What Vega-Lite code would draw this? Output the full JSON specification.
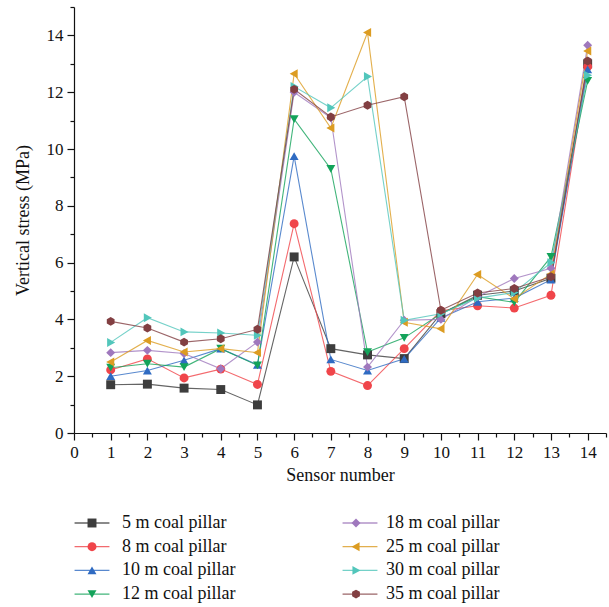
{
  "$schema": "https://vega.github.io/schema/vega-lite/v6.json",
  "width": 532,
  "height": 426,
  "autosize": "none",
  "padding": {"left": 74, "top": 7, "right": 3, "bottom": 174},
  "background": "white",
  "config": {
    "view": {"stroke": null},
    "font": "Liberation Serif",
    "axis": {"labelFont": "Liberation Serif", "titleFont": "Liberation Serif", "labelColor": "#111", "titleColor": "#111", "domainColor": "#111", "tickColor": "#111", "labelFontSize": 17, "titleFontSize": 18, "titleFontWeight": "normal", "grid": false, "domainWidth": 1.2, "tickWidth": 1.2},
    "legend": {
      "title": null,
      "orient": "none",
      "legendX": 0,
      "legendY": 507,
      "direction": "vertical",
      "columns": 2,
      "columnPadding": 102,
      "rowPadding": 5.7,
      "labelFont": "Liberation Serif",
      "labelFontSize": 18,
      "labelColor": "#111",
      "labelLimit": 300,
      "symbolSize": 80,
      "symbolOffset": 9,
      "labelOffset": 21
    }
  },
  "datasets": {
    "stress": [
      {"sensor": 1, "pillar": "5 m coal pillar", "stress": 1.70},
      {"sensor": 2, "pillar": "5 m coal pillar", "stress": 1.72},
      {"sensor": 3, "pillar": "5 m coal pillar", "stress": 1.58},
      {"sensor": 4, "pillar": "5 m coal pillar", "stress": 1.53},
      {"sensor": 5, "pillar": "5 m coal pillar", "stress": 0.99},
      {"sensor": 6, "pillar": "5 m coal pillar", "stress": 6.20},
      {"sensor": 7, "pillar": "5 m coal pillar", "stress": 2.97},
      {"sensor": 8, "pillar": "5 m coal pillar", "stress": 2.75},
      {"sensor": 9, "pillar": "5 m coal pillar", "stress": 2.62},
      {"sensor": 10, "pillar": "5 m coal pillar", "stress": 4.20},
      {"sensor": 11, "pillar": "5 m coal pillar", "stress": 4.85},
      {"sensor": 12, "pillar": "5 m coal pillar", "stress": 5.00},
      {"sensor": 13, "pillar": "5 m coal pillar", "stress": 5.45},
      {"sensor": 14, "pillar": "5 m coal pillar", "stress": 13.0},

      {"sensor": 1, "pillar": "8 m coal pillar", "stress": 2.22},
      {"sensor": 2, "pillar": "8 m coal pillar", "stress": 2.61},
      {"sensor": 3, "pillar": "8 m coal pillar", "stress": 1.94},
      {"sensor": 4, "pillar": "8 m coal pillar", "stress": 2.25},
      {"sensor": 5, "pillar": "8 m coal pillar", "stress": 1.71},
      {"sensor": 6, "pillar": "8 m coal pillar", "stress": 7.37},
      {"sensor": 7, "pillar": "8 m coal pillar", "stress": 2.17},
      {"sensor": 8, "pillar": "8 m coal pillar", "stress": 1.67},
      {"sensor": 9, "pillar": "8 m coal pillar", "stress": 2.97},
      {"sensor": 10, "pillar": "8 m coal pillar", "stress": 4.30},
      {"sensor": 11, "pillar": "8 m coal pillar", "stress": 4.48},
      {"sensor": 12, "pillar": "8 m coal pillar", "stress": 4.40},
      {"sensor": 13, "pillar": "8 m coal pillar", "stress": 4.85},
      {"sensor": 14, "pillar": "8 m coal pillar", "stress": 12.9},

      {"sensor": 1, "pillar": "10 m coal pillar", "stress": 2.00},
      {"sensor": 2, "pillar": "10 m coal pillar", "stress": 2.20},
      {"sensor": 3, "pillar": "10 m coal pillar", "stress": 2.56},
      {"sensor": 4, "pillar": "10 m coal pillar", "stress": 2.97},
      {"sensor": 5, "pillar": "10 m coal pillar", "stress": 2.40},
      {"sensor": 6, "pillar": "10 m coal pillar", "stress": 9.75},
      {"sensor": 7, "pillar": "10 m coal pillar", "stress": 2.59},
      {"sensor": 8, "pillar": "10 m coal pillar", "stress": 2.20},
      {"sensor": 9, "pillar": "10 m coal pillar", "stress": 2.61},
      {"sensor": 10, "pillar": "10 m coal pillar", "stress": 4.05},
      {"sensor": 11, "pillar": "10 m coal pillar", "stress": 4.62},
      {"sensor": 12, "pillar": "10 m coal pillar", "stress": 4.75},
      {"sensor": 13, "pillar": "10 m coal pillar", "stress": 5.40},
      {"sensor": 14, "pillar": "10 m coal pillar", "stress": 12.8},

      {"sensor": 1, "pillar": "12 m coal pillar", "stress": 2.30},
      {"sensor": 2, "pillar": "12 m coal pillar", "stress": 2.44},
      {"sensor": 3, "pillar": "12 m coal pillar", "stress": 2.32},
      {"sensor": 4, "pillar": "12 m coal pillar", "stress": 2.97},
      {"sensor": 5, "pillar": "12 m coal pillar", "stress": 2.38},
      {"sensor": 6, "pillar": "12 m coal pillar", "stress": 11.05},
      {"sensor": 7, "pillar": "12 m coal pillar", "stress": 9.30},
      {"sensor": 8, "pillar": "12 m coal pillar", "stress": 2.85},
      {"sensor": 9, "pillar": "12 m coal pillar", "stress": 3.35},
      {"sensor": 10, "pillar": "12 m coal pillar", "stress": 4.20},
      {"sensor": 11, "pillar": "12 m coal pillar", "stress": 4.80},
      {"sensor": 12, "pillar": "12 m coal pillar", "stress": 4.60},
      {"sensor": 13, "pillar": "12 m coal pillar", "stress": 6.20},
      {"sensor": 14, "pillar": "12 m coal pillar", "stress": 12.4},

      {"sensor": 1, "pillar": "18 m coal pillar", "stress": 2.83},
      {"sensor": 2, "pillar": "18 m coal pillar", "stress": 2.91},
      {"sensor": 3, "pillar": "18 m coal pillar", "stress": 2.80},
      {"sensor": 4, "pillar": "18 m coal pillar", "stress": 2.26},
      {"sensor": 5, "pillar": "18 m coal pillar", "stress": 3.20},
      {"sensor": 6, "pillar": "18 m coal pillar", "stress": 12.0},
      {"sensor": 7, "pillar": "18 m coal pillar", "stress": 11.1},
      {"sensor": 8, "pillar": "18 m coal pillar", "stress": 2.32},
      {"sensor": 9, "pillar": "18 m coal pillar", "stress": 3.97},
      {"sensor": 10, "pillar": "18 m coal pillar", "stress": 4.00},
      {"sensor": 11, "pillar": "18 m coal pillar", "stress": 4.80},
      {"sensor": 12, "pillar": "18 m coal pillar", "stress": 5.44},
      {"sensor": 13, "pillar": "18 m coal pillar", "stress": 5.80},
      {"sensor": 14, "pillar": "18 m coal pillar", "stress": 13.65},

      {"sensor": 1, "pillar": "25 m coal pillar", "stress": 2.50},
      {"sensor": 2, "pillar": "25 m coal pillar", "stress": 3.26},
      {"sensor": 3, "pillar": "25 m coal pillar", "stress": 2.85},
      {"sensor": 4, "pillar": "25 m coal pillar", "stress": 2.97},
      {"sensor": 5, "pillar": "25 m coal pillar", "stress": 2.83},
      {"sensor": 6, "pillar": "25 m coal pillar", "stress": 12.65},
      {"sensor": 7, "pillar": "25 m coal pillar", "stress": 10.74},
      {"sensor": 8, "pillar": "25 m coal pillar", "stress": 14.1},
      {"sensor": 9, "pillar": "25 m coal pillar", "stress": 3.90},
      {"sensor": 10, "pillar": "25 m coal pillar", "stress": 3.67},
      {"sensor": 11, "pillar": "25 m coal pillar", "stress": 5.58},
      {"sensor": 12, "pillar": "25 m coal pillar", "stress": 4.73},
      {"sensor": 13, "pillar": "25 m coal pillar", "stress": 5.60},
      {"sensor": 14, "pillar": "25 m coal pillar", "stress": 13.45},

      {"sensor": 1, "pillar": "30 m coal pillar", "stress": 3.19},
      {"sensor": 2, "pillar": "30 m coal pillar", "stress": 4.06},
      {"sensor": 3, "pillar": "30 m coal pillar", "stress": 3.56},
      {"sensor": 4, "pillar": "30 m coal pillar", "stress": 3.52},
      {"sensor": 5, "pillar": "30 m coal pillar", "stress": 3.44},
      {"sensor": 6, "pillar": "30 m coal pillar", "stress": 12.2},
      {"sensor": 7, "pillar": "30 m coal pillar", "stress": 11.45},
      {"sensor": 8, "pillar": "30 m coal pillar", "stress": 12.55},
      {"sensor": 9, "pillar": "30 m coal pillar", "stress": 3.97},
      {"sensor": 10, "pillar": "30 m coal pillar", "stress": 4.20},
      {"sensor": 11, "pillar": "30 m coal pillar", "stress": 4.75},
      {"sensor": 12, "pillar": "30 m coal pillar", "stress": 4.95},
      {"sensor": 13, "pillar": "30 m coal pillar", "stress": 6.00},
      {"sensor": 14, "pillar": "30 m coal pillar", "stress": 12.6},

      {"sensor": 1, "pillar": "35 m coal pillar", "stress": 3.93},
      {"sensor": 2, "pillar": "35 m coal pillar", "stress": 3.70},
      {"sensor": 3, "pillar": "35 m coal pillar", "stress": 3.20},
      {"sensor": 4, "pillar": "35 m coal pillar", "stress": 3.32},
      {"sensor": 5, "pillar": "35 m coal pillar", "stress": 3.65},
      {"sensor": 6, "pillar": "35 m coal pillar", "stress": 12.1},
      {"sensor": 7, "pillar": "35 m coal pillar", "stress": 11.13},
      {"sensor": 8, "pillar": "35 m coal pillar", "stress": 11.54},
      {"sensor": 9, "pillar": "35 m coal pillar", "stress": 11.84},
      {"sensor": 10, "pillar": "35 m coal pillar", "stress": 4.32},
      {"sensor": 11, "pillar": "35 m coal pillar", "stress": 4.93},
      {"sensor": 12, "pillar": "35 m coal pillar", "stress": 5.09},
      {"sensor": 13, "pillar": "35 m coal pillar", "stress": 5.50},
      {"sensor": 14, "pillar": "35 m coal pillar", "stress": 13.1}
    ]
  },
  "data": {"name": "stress"},
  "transform": [{"calculate": "datum.pillar", "as": "marker"}],
  "encoding": {
    "x": {
      "field": "sensor", "type": "quantitative", "title": "Sensor number",
      "scale": {"domain": [0, 14.5], "nice": false, "zero": false},
      "axis": {
        "values": [0,0.5,1,1.5,2,2.5,3,3.5,4,4.5,5,5.5,6,6.5,7,7.5,8,8.5,9,9.5,10,10.5,11,11.5,12,12.5,13,13.5,14,14.5],
        "labelExpr": "datum.value % 1 === 0 ? '' + datum.value : ''",
        "tickSize": {"condition": {"test": "datum.value % 1 === 0", "value": 7}, "value": 4},
        "labelPadding": 4, "titlePadding": 6, "labelFlush": false, "labelOverlap": false
      }
    },
    "y": {
      "field": "stress", "type": "quantitative", "title": "Vertical stress (MPa)",
      "scale": {"domain": [0, 15], "nice": false},
      "axis": {
        "values": [0,1,2,3,4,5,6,7,8,9,10,11,12,13,14,15],
        "labelExpr": "datum.value % 2 === 0 ? '' + datum.value : ''",
        "tickSize": {"condition": {"test": "datum.value % 2 === 0", "value": 7}, "value": 4},
        "labelPadding": 4, "titlePadding": 14, "labelFlush": false, "labelOverlap": false
      }
    }
  },
  "layer": [
    {
      "mark": {"type": "line", "strokeWidth": 1.1, "opacity": 0.8},
      "encoding": {
        "stroke": {
          "field": "pillar", "type": "nominal",
          "sort": ["5 m coal pillar", "8 m coal pillar", "10 m coal pillar", "12 m coal pillar", "18 m coal pillar", "25 m coal pillar", "30 m coal pillar", "35 m coal pillar"],
          "scale": {
            "range": ["#3d3d3d", "#f0454a", "#2f6bc2", "#13a35a", "#9f78bd", "#dc9c22", "#52c6bb", "#823f42"]
          },
          "legend": {
            "symbolType": "M-3.9,0L3.9,0",
            "symbolStrokeWidth": 1.3,
            "labelExpr": "''",
            "columnPadding": 217
          }
        }
      }
    },
    {
      "mark": {"type": "point", "filled": true, "opacity": 1, "size": 80},
      "encoding": {
        "fill": {
          "field": "marker", "type": "nominal",
          "scale": {
            "domain": ["5 m coal pillar", "8 m coal pillar", "10 m coal pillar", "12 m coal pillar", "18 m coal pillar", "25 m coal pillar", "30 m coal pillar", "35 m coal pillar"],
            "range": ["#3d3d3d", "#f0454a", "#2f6bc2", "#13a35a", "#9f78bd", "#dc9c22", "#52c6bb", "#823f42"]
          },
          "legend": {"labelOpacity": 1}
        },
        "shape": {
          "field": "marker", "type": "nominal",
          "scale": {
            "domain": ["5 m coal pillar", "8 m coal pillar", "10 m coal pillar", "12 m coal pillar", "18 m coal pillar", "25 m coal pillar", "30 m coal pillar", "35 m coal pillar"],
            "range": ["square", "circle", "triangle-up", "triangle-down", "diamond", "M-1,0L0.8,-1L0.8,1Z", "M1,0L-0.8,-1L-0.8,1Z", "M0,-1L0.87,-0.5L0.87,0.5L0,1L-0.87,0.5L-0.87,-0.5Z"]
          },
          "legend": {"labelOpacity": 1}
        }
      }
    }
  ]
}
